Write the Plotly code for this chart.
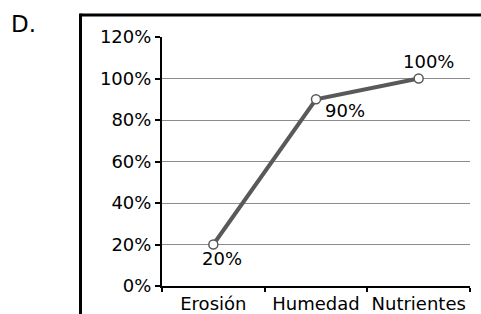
import plotly.graph_objects as go

categories = ["Erosión", "Humedad", "Nutrientes"]
values = [0.20, 0.90, 1.00]
label_texts = ["20%", "90%", "100%"]
y_tick_vals = [0, 0.2, 0.4, 0.6, 0.8, 1.0, 1.2]
y_tick_text = ["0%", "20%", "40%", "60%", "80%", "100%", "120%"]

W, H = 481, 314
ml, mr, mt, mb = 162, 11, 37, 28
pw = W - ml - mr
ph = H - mt - mb

FONT = "DejaVu Sans, Verdana, sans-serif"
LINE_COLOR = "#595959"
FS = 18

fig = go.Figure()
fig.add_trace(go.Scatter(
    x=categories, y=values, mode="lines+markers",
    line=dict(color=LINE_COLOR, width=4),
    marker=dict(size=9, color="white", line=dict(color=LINE_COLOR, width=1.5)),
    hoverinfo="skip", cliponaxis=False,
))

# data labels placed from data values
shifts = [(9, -14), (29, -11), (10, 17)]
for c, v, t, (dx, dy) in zip(categories, values, label_texts, shifts):
    fig.add_annotation(x=c, y=v, text=t, showarrow=False, xshift=dx, yshift=dy,
                       font=dict(size=FS, color="black", family=FONT))

def px_to_paper_x(px):
    return (px - ml) / pw

def px_to_paper_y(py):
    return 1 - (py - mt) / ph

# outer frame lines (top and left)
fig.add_shape(type="line", xref="paper", yref="paper",
              x0=px_to_paper_x(80.5), x1=px_to_paper_x(482),
              y0=px_to_paper_y(15), y1=px_to_paper_y(15),
              line=dict(color="black", width=3))
fig.add_shape(type="line", xref="paper", yref="paper",
              x0=px_to_paper_x(80.5), x1=px_to_paper_x(80.5),
              y0=px_to_paper_y(13.5), y1=px_to_paper_y(320),
              line=dict(color="black", width=3))

fig.add_annotation(xref="paper", yref="paper",
                   x=px_to_paper_x(9), y=px_to_paper_y(9),
                   xanchor="left", yanchor="top", text="D.", showarrow=False,
                   font=dict(size=23, color="black", family=FONT))

fig.update_layout(
    width=W, height=H,
    margin=dict(l=ml, r=mr, t=mt, b=mb, autoexpand=False),
    paper_bgcolor="white", plot_bgcolor="white",
    showlegend=False,
    font=dict(family=FONT, size=FS, color="black"),
    xaxis=dict(
        type="category", range=[-0.5, len(categories) - 0.5],
        showgrid=False, showline=True, linecolor="black", linewidth=2,
        ticks="outside", tickson="boundaries", ticklen=4, tickwidth=2, tickcolor="black",
        tickangle=0, automargin=False,
        tickfont=dict(size=FS, color="black", family=FONT),
        fixedrange=True, zeroline=False,
    ),
    yaxis=dict(
        range=[0, 1.2], tickvals=y_tick_vals, ticktext=y_tick_text,
        showgrid=True, gridcolor="#8c8c8c", gridwidth=1,
        showline=True, linecolor="black", linewidth=2,
        ticks="outside", ticklen=5, tickwidth=2, tickcolor="black",
        automargin=False,
        tickfont=dict(size=FS, color="black", family=FONT),
        zeroline=False, fixedrange=True,
    ),
)

fig.write_html("out.html", config={"displayModeBar": False, "staticPlot": True})

# remove default page margin so the figure sits at the window origin
with open("out.html", "r", encoding="utf-8") as f:
    html = f.read()
html = html.replace("<body>", '<body style="margin:0;padding:0;overflow:hidden">', 1)
with open("out.html", "w", encoding="utf-8") as f:
    f.write(html)
